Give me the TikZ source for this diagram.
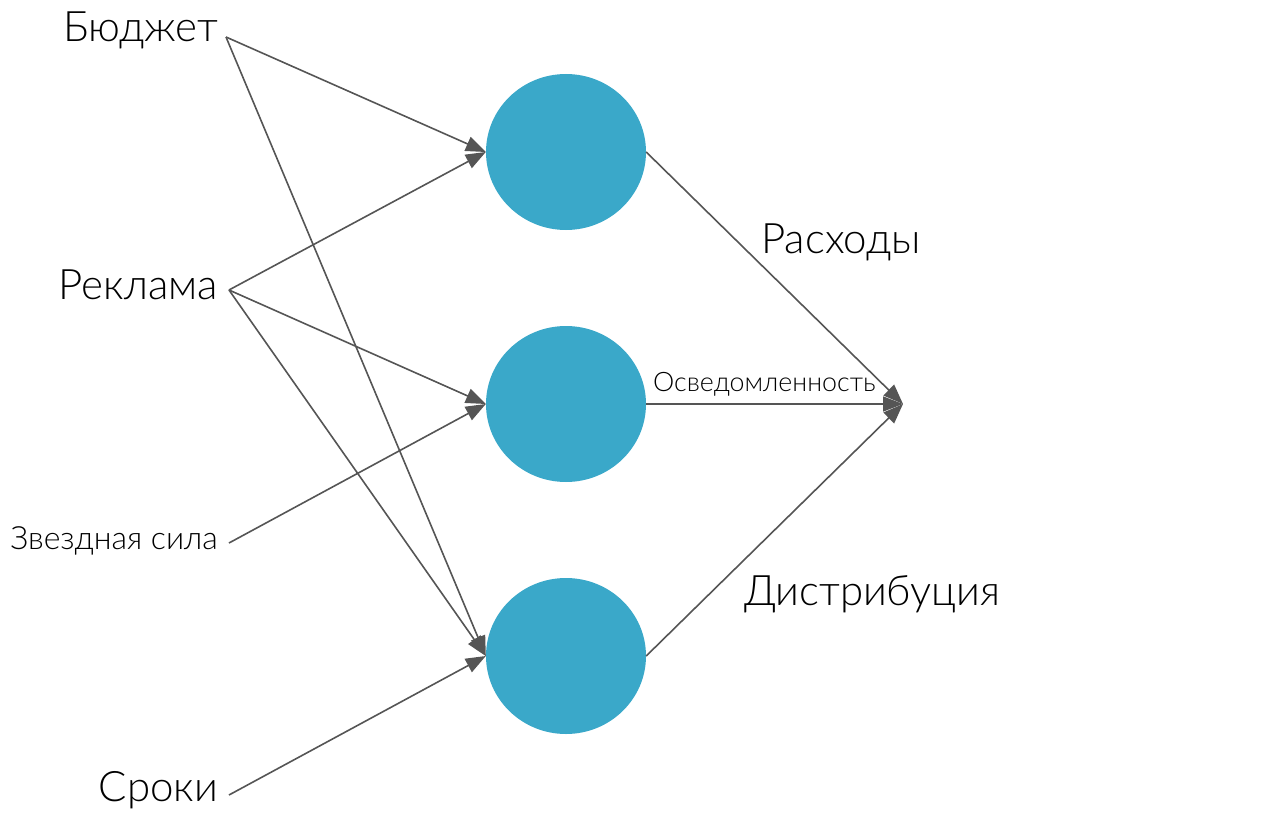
\documentclass[tikz,border=0pt]{standalone}
\usepackage{fontspec}
\setmainfont{Lato}[UprightFont={* Light}]
\usetikzlibrary{arrows.meta,shapes.geometric}
\definecolor{nodeblue}{HTML}{3AA8C9}
\definecolor{linegray}{HTML}{555555}
\begin{document}
\begin{tikzpicture}[x=1pt,y=-1pt,
  neuron/.style={ellipse, fill=nodeblue, minimum width=160pt, minimum height=156pt, inner sep=0pt},
  conn/.style={draw=linegray, line width=1.6pt, -{Triangle[length=20pt,width=15pt,fill=linegray]}},
  inlabel/.style={anchor=east, inner sep=0pt, text=black},
  big/.style={font=\fontsize{42}{50}\selectfont},
  mid/.style={font=\fontsize{32}{40}\selectfont},
  small/.style={font=\fontsize{26.8}{32}\selectfont}]
\useasboundingbox (0,0) rectangle (1283,816);
% neurons
\node[neuron] (n1) at (566,152) {};
\node[neuron] (n2) at (566,404) {};
\node[neuron] (n3) at (566,656) {};
% input labels
\node[inlabel,big] (bud) at (218,30) {Бюджет};
\node[inlabel,big] (rek) at (218,285) {Реклама};
\node[inlabel,mid] (zvs) at (218,541) {Звездная сила};
\node[inlabel,big] (srk) at (218,790) {Сроки};
\coordinate (budS) at (226,37);
\coordinate (rekS) at (229,290);
\coordinate (zvsS) at (229,543);
\coordinate (srkS) at (229,795);
\coordinate (out) at (903,404);
% input connectors
\draw[conn] (budS) -- (n1.west);
\draw[conn] (budS) -- (n3.west);
\draw[conn] (rekS) -- (n1.west);
\draw[conn] (rekS) -- (n2.west);
\draw[conn] (rekS) -- (n3.west);
\draw[conn] (zvsS) -- (n2.west);
\draw[conn] (srkS) -- (n3.west);
% output connectors
\draw[conn] (n1.east) -- (out);
\draw[conn] (n2.east) -- (out);
\draw[conn] (n3.east) -- (out);
% output labels
\node[big,inner sep=0pt] (ras) at (841,242) {Расходы};
\node[small,inner sep=0pt,anchor=west] (osv) at (653,384) {Осведомленность};
\node[big,inner sep=0pt] (dis) at (872,594) {Дистрибуция};
\end{tikzpicture}
\end{document}
